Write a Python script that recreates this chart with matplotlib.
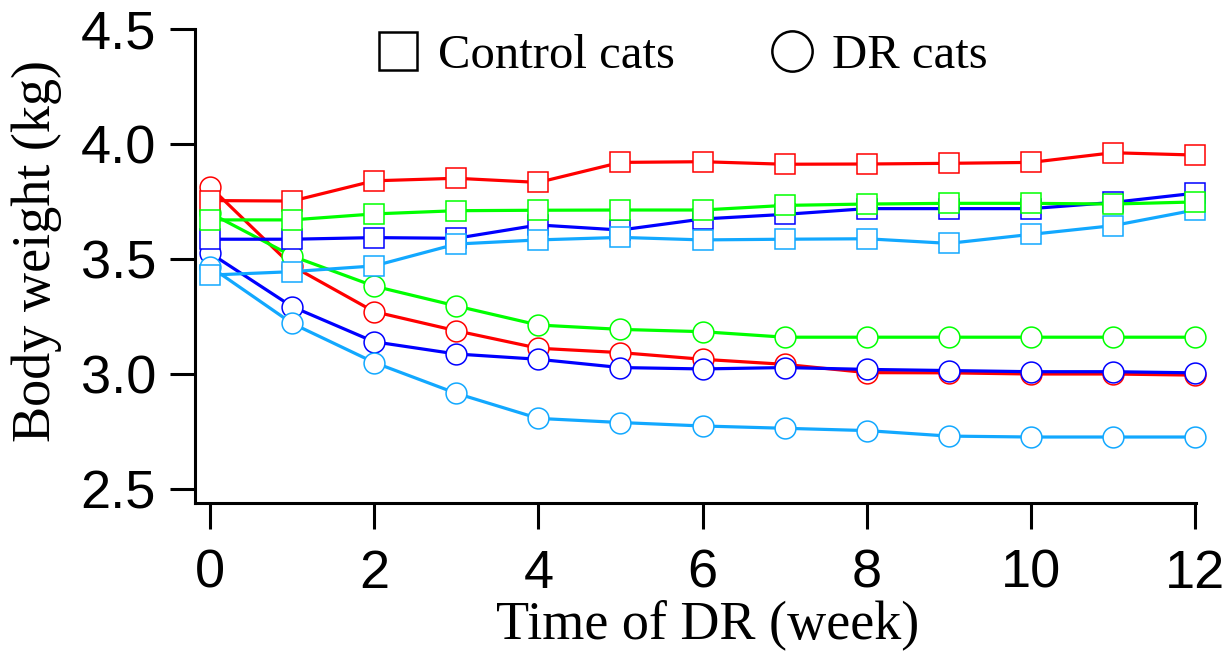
import matplotlib
matplotlib.use("Agg")
import matplotlib.pyplot as plt
from matplotlib.lines import Line2D

weeks = [0, 1, 2, 3, 4, 5, 6, 7, 8, 9, 10, 11, 12]

# Control cats (squares)
ctrl_red = [3.754, 3.752, 3.840, 3.851, 3.833, 3.920, 3.923, 3.912, 3.913, 3.916, 3.920, 3.962, 3.952]
ctrl_green = [3.670, 3.670, 3.696, 3.710, 3.712, 3.713, 3.713, 3.733, 3.739, 3.742, 3.742, 3.739, 3.748]
ctrl_blue = [3.586, 3.586, 3.593, 3.590, 3.648, 3.626, 3.674, 3.694, 3.719, 3.719, 3.719, 3.746, 3.786]
ctrl_lblue = [3.430, 3.445, 3.470, 3.565, 3.583, 3.594, 3.583, 3.586, 3.588, 3.568, 3.607, 3.645, 3.713]

# DR cats (circles)
dr_red = [3.814, 3.470, 3.271, 3.188, 3.112, 3.093, 3.064, 3.042, 3.006, 3.005, 3.000, 3.000, 2.995]
dr_green = [3.700, 3.513, 3.382, 3.296, 3.213, 3.194, 3.184, 3.160, 3.160, 3.160, 3.160, 3.160, 3.160]
dr_blue = [3.526, 3.293, 3.140, 3.087, 3.064, 3.028, 3.022, 3.028, 3.020, 3.015, 3.010, 3.010, 3.005]
dr_lblue = [3.467, 3.220, 3.050, 2.916, 2.807, 2.789, 2.774, 2.764, 2.754, 2.730, 2.726, 2.726, 2.726]

xticks = [0, 2, 4, 6, 8, 10, 12]
yticks = [2.5, 3.0, 3.5, 4.0, 4.5]
legend_labels = ["Control cats", "DR cats"]

RED, GREEN, BLUE, LBLUE = "#FF0000", "#00FF00", "#0000FF", "#12A8FF"

W, H = 1226, 659
fig = plt.figure(figsize=(W / 100, H / 100), dpi=100)
L, R, T, B = 195, 1196, 29, 503
ax = fig.add_axes([L / W, 1 - B / H, (R - L) / W, (B - T) / H])

px_per_week = (1195 - 210) / 12
ax.set_xlim(-(210 - L) / px_per_week, 12 + (R - 1195) / px_per_week)
ax.set_ylim(2.5 - (B - 489) / 230, 4.5)

lw = 2.3
ms = 15
mew = 1.1

def series(y, color, marker, z):
    ax.plot(weeks, y, color=color, lw=lw, marker=marker, markersize=ms,
            markerfacecolor="white", markeredgecolor=color, markeredgewidth=mew,
            clip_on=False, zorder=z)

series(dr_red, RED, "o", 3)
series(dr_blue, BLUE, "o", 4)
series(dr_lblue, LBLUE, "o", 5)
series(dr_green, GREEN, "o", 6)
series(ctrl_blue, BLUE, "s", 7)
series(ctrl_red, RED, "s", 8)
series(ctrl_lblue, LBLUE, "s", 9)
series(ctrl_green, GREEN, "s", 10)

for s in ["top", "right"]:
    ax.spines[s].set_visible(False)
for s in ["left", "bottom"]:
    ax.spines[s].set_linewidth(2.2)

ax.set_xticks(xticks)
ax.set_yticks(yticks)
ax.set_yticklabels([f"{v:.1f}" for v in yticks])
ax.tick_params(axis="both", direction="out", width=2.2, labelsize=39)
ax.tick_params(axis="y", length=18, pad=10)
ax.tick_params(axis="x", length=19, pad=14)
for lab in ax.get_xticklabels() + ax.get_yticklabels():
    lab.set_fontfamily("Liberation Sans")

ax.set_xlabel("Time of DR (week)", fontsize=39, fontfamily="Liberation Serif")
ax.xaxis.label.set_va("baseline")
ax.xaxis.set_label_coords((708 - L) / (R - L), (B - 638) / (B - T))
ax.set_ylabel("Body weight (kg)", fontsize=39, fontfamily="Liberation Serif")
ax.yaxis.label.set_va("center")
ax.yaxis.set_label_coords((37 - L) / (R - L), (B - 251) / (B - T))

handles = [
    Line2D([], [], ls="none", marker="s", markersize=28, markerfacecolor="white",
           markeredgecolor="black", markeredgewidth=1.8),
    Line2D([], [], ls="none", marker="o", markersize=29, markerfacecolor="white",
           markeredgecolor="black", markeredgewidth=1.8),
]
fs_leg = 35
ax.legend(handles, legend_labels, loc="center left",
          bbox_to_anchor=(374 / W, 1 - 56 / H), bbox_transform=fig.transFigure,
          ncol=2, frameon=False, borderpad=0, borderaxespad=0,
          handlelength=1.0, handletextpad=0.32, columnspacing=1.9,
          prop={"family": "Liberation Serif", "size": fs_leg})

fig.savefig("out.png", dpi=100)
